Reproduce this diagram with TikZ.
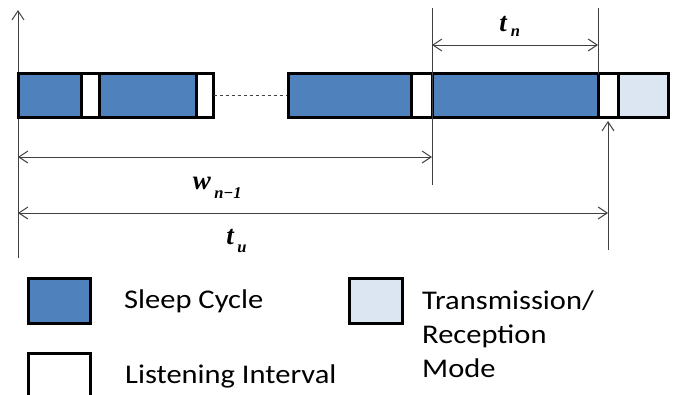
\documentclass[tikz,border=0pt]{standalone}
\usepackage{fontspec}
\setmainfont{Liberation Serif}
\newfontfamily\legendfont{Carlito}[FakeStretch=1.13]
\usetikzlibrary{arrows.meta}
\definecolor{sleepblue}{HTML}{4F81BD}
\definecolor{txblue}{HTML}{DCE6F2}
\definecolor{dimgray}{HTML}{404040}
\tikzset{
  seg/.style={draw=black, line width=3pt, inner sep=0pt, outer sep=0pt,
              minimum height=44pt, anchor=north west},
  sleepseg/.style={seg, fill=sleepblue},
  listenseg/.style={seg, fill=white},
  txseg/.style={seg, fill=txblue},
  dimline/.style={draw=dimgray, line width=1pt},
  dimarrow/.style={dimline, {Straight Barb[length=9pt,width=12pt]}-{Straight Barb[length=9pt,width=12pt]}},
  uparrow/.style={dimline, -{Straight Barb[length=9pt,width=12pt]}},
  lbl/.style={font=\fontsize{27}{29}\selectfont\bfseries\itshape, inner sep=0pt},
  sublbl/.style={font=\fontsize{16.5}{18}\selectfont\bfseries\itshape, inner sep=0pt},
  legtext/.style={font=\legendfont\fontsize{27}{34}\selectfont, inner sep=0pt, anchor=base west, align=left},
  legbox/.style={draw=black, line width=3pt, inner sep=0pt, outer sep=0pt,
                 minimum width=62pt, minimum height=45pt, anchor=north west},
}
\begin{document}
\begin{tikzpicture}[x=1pt, y=-1pt]
\useasboundingbox (0,0) rectangle (680,394);

% time axis
\coordinate (axbot) at (18,258);
\coordinate (axtop) at (18,10);
\draw[uparrow] (axbot) -- (axtop);

% first group of cycles
\node[sleepseg,  minimum width=62.5pt] (s1) at (18.5,73.5) {};
\node[listenseg, minimum width=18pt]   (l1) at (81,73.5) {};
\node[sleepseg,  minimum width=97pt]   (s2) at (99,73.5) {};
\node[listenseg, minimum width=17.5pt] (l2) at (196,73.5) {};

% omitted cycles
\draw[dimline, line width=0.8pt, dashed] (l2.east) -- (288.5,95.5) coordinate (gap);

% last cycles before the transmission
\node[sleepseg,  minimum width=122.5pt] (s3) at (288.5,73.5) {};
\node[listenseg, minimum width=21pt]    (l3) at (411,73.5) {};
\node[sleepseg,  minimum width=166pt]   (s4) at (432,73.5) {};
\node[listenseg, minimum width=20pt]    (l4) at (598,73.5) {};
\node[txseg,     minimum width=50.5pt]  (tx) at (618,73.5) {};

% reference lines
\coordinate (va) at (432,8);
\coordinate (vb) at (432,185);
\coordinate (vc) at (598,8);
\draw[dimline] (va) -- (vb);
\draw[dimline] (vc) -- (l4.north west);

% t_n
\coordinate (tn1) at (432,45);
\coordinate (tn2) at (598,45);
\draw[dimarrow] (tn1) -- (tn2);
\node[lbl] (tnt) at (503,24) {t};
\node[sublbl] (tns) at (515.5,32.5) {n};

% w_{n-1}
\coordinate (w1) at (18,157);
\coordinate (w2) at (432,157);
\draw[dimarrow] (w1) -- (w2);
\node[lbl] (wt) at (202,183) {w};
\node[sublbl] (ws) at (228,193) {n−1};

% t_u
\coordinate (u1) at (18,213);
\coordinate (u2) at (608,213);
\draw[dimarrow] (u1) -- (u2);
\node[lbl] (ut) at (230,237.5) {t};
\node[sublbl] (us) at (242,248.5) {u};

% arrival of the transmission request
\coordinate (rq) at (608,250);
\draw[uparrow] (rq) -- (608,121) coordinate (rqtip);

% legend
\node[legbox, fill=sleepblue] (k1) at (28.5,278.5) {};
\node[legtext] (k1t) at (124,308.5) {Sleep Cycle};
\node[legbox, fill=white] (k2) at (28.5,353.5) {};
\node[legtext] (k2t) at (125,383.5) {Listening Interval};
\node[legbox, fill=txblue, minimum width=53pt] (k3) at (349.5,278.5) {};
\node[legtext] (k3t) at (422,377) {Transmission/\\Reception\\Mode};
\end{tikzpicture}
\end{document}
